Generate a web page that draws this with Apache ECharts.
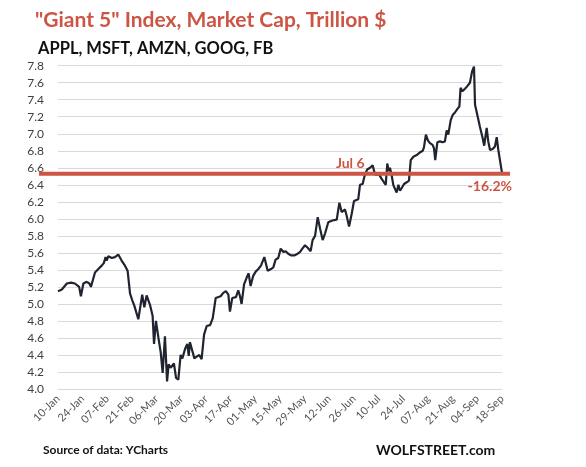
<!DOCTYPE html>
<html>
<head>
<meta charset="utf-8">
<script src="https://cdn.jsdelivr.net/npm/echarts@6/dist/echarts.min.js"></script>
<style>
  html, body { margin: 0; padding: 0; background: #fff; }
  #main { width: 586px; height: 467px; }
</style>
</head>
<body>
<div id="main"></div>
<script>
// x positions are days counted from 10-Jan
const tickLabels = ["10-Jan", "24-Jan", "07-Feb", "21-Feb", "06-Mar", "20-Mar", "03-Apr", "17-Apr", "01-May",
  "15-May", "29-May", "12-Jun", "26-Jun", "10-Jul", "24-Jul", "07-Aug", "21-Aug", "04-Sep", "18-Sep"];

const days = [0, 2.2, 5, 7.4, 9.6, 12, 13, 14.4, 16.3, 17.8, 18.7, 21, 22.9, 24.8, 26, 27, 27.6, 28.6, 30.5, 32.3,
  34.2, 36.1, 38, 39.5, 40.9, 42.2, 43.3, 45.6, 47.8, 49, 50.3, 52.2, 53.7, 54.5, 55.6, 57, 58.3, 59.4, 60.7, 61.9,
  62.8, 63.9, 65.8, 67, 68.3, 69.6, 70.6, 72.1, 73.4, 74.2, 74.9, 76, 77.4, 78.7, 80.2, 81.5, 82.9, 84.4, 86.3, 87.8,
  89.5, 90.6, 92.3, 93.8, 95.3, 96.7, 97.6, 98.9, 101, 102.3, 103.3, 104.2, 105.6, 107.1, 108.2, 109.3, 110.8, 112.2,
  113.7, 115.2, 117.1, 119, 120.9, 122.2, 123.5, 125, 126.4, 127.9, 129.2, 130.7, 132.2, 134.1, 136, 137.3, 138.7,
  140.2, 141.7, 143.4, 144.5, 145.9, 147.4, 148.7, 150.2, 151.6, 153.4, 155.7, 158.2, 159.7, 161, 162.9, 163.8, 165.2,
  166.7, 168, 170.4, 171.4, 172.9, 174.2, 175.5, 177.1, 178.6, 179.9, 180.9, 182.3, 183.7, 185, 186, 186.9, 187.7,
  188.4, 189.4, 190.3, 191.3, 192.2, 193.2, 194.1, 195, 196.4, 197.9, 199.2, 200.2, 201.7, 203.6, 205.4, 207, 207.7,
  208.8, 210, 211.1, 212.6, 213.4, 214.1, 215.3, 216.8, 218.3, 219.6, 220.6, 221.5, 222.9, 224, 225.3, 226.6, 227.8,
  228.5, 229.5, 231, 232.3, 233.8, 235, 236.1, 236.7, 238, 239.5, 241, 241.9, 243.3, 244.2, 245.2, 246.7, 248, 249,
  249.9, 252];

const values = [5.15, 5.17, 5.24, 5.25, 5.24, 5.2, 5.09, 5.24, 5.26, 5.24, 5.2, 5.37, 5.41, 5.45, 5.48, 5.55, 5.51, 5.56, 5.54, 5.55,
  5.58, 5.51, 5.45, 5.39, 5.12, 5.04, 4.98, 4.82, 5.11, 4.96, 5.1, 4.99, 4.86, 4.53, 4.8, 4.6, 4.43, 4.19, 4.62, 4.09,
  4.29, 4.25, 4.3, 4.13, 4.11, 4.4, 4.36, 4.47, 4.53, 4.39, 4.55, 4.55, 4.36, 4.38, 4.4, 4.35, 4.64, 4.74, 4.75, 4.83,
  5.07, 5.05, 5.09, 5.13, 5.15, 5.11, 4.91, 5.07, 5.08, 5.16, 5.09, 5.0, 5.23, 5.31, 5.36, 5.21, 5.33, 5.38,
  5.41, 5.45, 5.55, 5.39, 5.41, 5.43, 5.52, 5.54, 5.65, 5.61, 5.62, 5.59, 5.57, 5.57, 5.59, 5.61, 5.65,
  5.69, 5.66, 5.62, 5.75, 5.8, 6.02, 5.89, 5.75, 5.83, 5.96, 5.98, 5.99, 6.19, 6.08, 6.11, 6.04, 5.91,
  6.06, 6.21, 6.23, 6.4, 6.41, 6.52, 6.58, 6.6, 6.63, 6.52, 6.51, 6.52, 6.47, 6.43, 6.4, 6.65, 6.56,
  6.6, 6.51, 6.4, 6.35, 6.31, 6.4, 6.33, 6.36, 6.41, 6.43, 6.45, 6.69, 6.73, 6.75, 6.78, 6.8, 6.84,
  6.99, 6.92, 6.89, 6.87, 6.83, 6.69, 6.9, 6.91, 6.9, 6.91, 7.04, 6.99, 7.16, 7.22, 7.25, 7.29, 7.32,
  7.54, 7.5, 7.53, 7.56, 7.6, 7.73, 7.79, 7.34, 7.22, 7.08, 6.95, 6.86, 7.07, 6.91, 6.81, 6.82, 6.85, 6.96,
  6.81, 6.54];

const refValue = 6.53;     // Jul 6 level
const refDay = 178;
const dropText = "-16.2%";

const red = "#cd5543";
const font = "Lato";

var myChart = echarts.init(document.getElementById("main"));
var option = {
  animation: false,
  backgroundColor: "#fff",
  title: [
    {
      text: '"Giant 5" Index, Market Cap, Trillion $',
      left: 30,
      top: 5,
      textStyle: { color: red, fontSize: 21, fontWeight: "bold", fontFamily: font },
    },
    {
      text: "APPL, MSFT, AMZN, GOOG, FB",
      left: 33,
      top: 35,
      textStyle: { color: "#111", fontSize: 16.5, fontWeight: "bold", fontFamily: font },
    },
  ],
  grid: { left: 58, right: 84, top: 65.7, bottom: 78 },
  xAxis: {
    type: "value",
    min: 0,
    max: 252,
    interval: 14,
    axisLine: { show: false },
    axisTick: { show: false },
    splitLine: { show: false },
    axisLabel: {
      rotate: 45,
      margin: 8,
      color: "#555",
      fontSize: 11,
      fontFamily: font,
      formatter: (v) => tickLabels[Math.round(v / 14)],
    },
  },
  yAxis: {
    type: "value",
    min: 4,
    max: 7.8,
    interval: 0.2,
    axisLine: { show: false },
    axisTick: { show: false },
    splitLine: { lineStyle: { color: "#d9d9d9", width: 1 } },
    axisLabel: {
      margin: 14,
      color: "#404040",
      fontSize: 12,
      fontFamily: font,
      formatter: (v) => v.toFixed(1),
    },
  },
  series: [
    {
      type: "line",
      data: days.map((d, i) => [d, values[i]]),
      symbol: "none",
      lineStyle: { color: "#1f2430", width: 2.2 },
      z: 3,
    },
  ],
};
myChart.setOption(option);

// red reference line sticks out past the plot on both sides
const yRef = myChart.convertToPixel({ yAxisIndex: 0 }, refValue);
const jul6 = myChart.convertToPixel({ gridIndex: 0 }, [refDay, refValue]);
const lastPt = myChart.convertToPixel({ gridIndex: 0 }, [days[days.length - 1], refValue]);
myChart.setOption({
  graphic: [
    {
      type: "line",
      shape: { x1: 39, y1: yRef, x2: 510, y2: yRef },
      style: { stroke: red, lineWidth: 4 },
      z: 5,
    },
    {
      type: "text",
      x: jul6[0] - 7,
      y: yRef - 3,
      style: {
        text: "Jul 6",
        fill: red,
        font: "bold 14px " + font,
        textAlign: "right",
        textVerticalAlign: "bottom",
      },
      z: 6,
    },
    {
      type: "text",
      x: lastPt[0] + 10,
      y: yRef + 6,
      style: {
        text: dropText,
        fill: red,
        font: "bold 14px " + font,
        textAlign: "right",
        textVerticalAlign: "top",
      },
      z: 6,
    },
    {
      type: "text",
      left: 43,
      top: 444,
      style: { text: "Source of data: YCharts", fill: "#111", font: "bold 12px " + font },
    },
    {
      type: "text",
      left: 376,
      top: 443,
      style: { text: "WOLFSTREET.com", fill: "#111", font: "bold 14px " + font },
    },
  ],
});
</script>
</body>
</html>
